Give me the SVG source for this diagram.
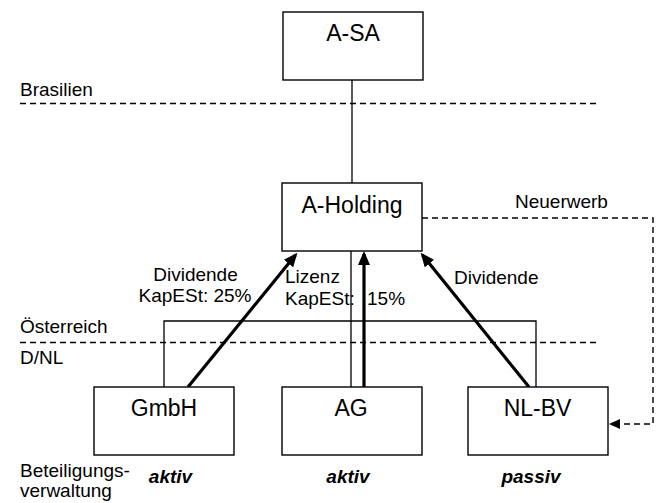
<svg xmlns="http://www.w3.org/2000/svg" width="658" height="503" viewBox="0 0 658 503">
  <style>
    .box { fill: #ffffff; stroke: #000000; stroke-width: 1.4; }
    .name { font-family: "Liberation Sans", Arial, sans-serif; font-size: 23px; text-anchor: middle; fill: #000000; }
    .lbl { font-family: "Liberation Sans", Arial, sans-serif; font-size: 19px; fill: #000000; }
    .mode { font-family: "Liberation Sans", Arial, sans-serif; font-size: 19px; font-weight: bold; font-style: italic; text-anchor: middle; fill: #000000; }
    .link { fill: none; stroke: #000000; stroke-width: 1.3; }
    .border { fill: none; stroke: #000000; stroke-width: 1.3; stroke-dasharray: 6 4; }
    .flow { fill: none; stroke: #000000; stroke-width: 3.2; marker-end: url(#bigHead); }
    .buy { fill: none; stroke: #000000; stroke-width: 1.4; stroke-dasharray: 6 4; marker-end: url(#smallHead); }
  </style>
  <defs>
    <marker id="bigHead" markerUnits="userSpaceOnUse" markerWidth="14" markerHeight="12" refX="11" refY="6" orient="auto">
      <path d="M0,0 L14,6 L0,12 z" fill="#000000"/>
    </marker>
    <marker id="smallHead" markerUnits="userSpaceOnUse" markerWidth="11" markerHeight="10" refX="9" refY="5" orient="auto">
      <path d="M0,0 L11,5 L0,10 z" fill="#000000"/>
    </marker>
  </defs>

  <!-- country borders and side labels -->
  <g id="borders">
    <line class="border" x1="20" y1="103.5" x2="597" y2="103.5"/>
    <line class="border" x1="20" y1="342.5" x2="597" y2="342.5"/>
    <text class="lbl" x="20" y="96">Brasilien</text>
    <text class="lbl" x="20" y="333">Österreich</text>
    <text class="lbl" x="20" y="364">D/NL</text>
    <text class="lbl" x="20" y="477">Beteiligungs-</text>
    <text class="lbl" x="20" y="497">verwaltung</text>
  </g>

  <!-- connectors -->
  <g id="connectors">
    <line class="link" x1="352" y1="80" x2="352" y2="183"/>
    <line class="link" x1="351" y1="251" x2="351" y2="387"/>
    <polyline class="link" points="164,387 164,321 536,321 536,387"/>
    <line class="flow" x1="188" y1="387" x2="295.5" y2="255"/>
    <line class="flow" x1="364" y1="387" x2="364" y2="254"/>
    <line class="flow" x1="529" y1="387" x2="422.5" y2="255"/>
    <polyline class="buy" points="422,218 653,218 653,424 611,424"/>
    <text class="lbl" x="195.5" y="281" text-anchor="middle">Dividende</text>
    <text class="lbl" x="195" y="302" text-anchor="middle">KapESt: 25%</text>
    <text class="lbl" x="285" y="283">Lizenz</text>
    <text class="lbl" x="285" y="304.5">KapESt:<tspan x="367">15%</tspan></text>
    <text class="lbl" x="454" y="284">Dividende</text>
    <text class="lbl" x="515" y="208">Neuerwerb</text>
  </g>

  <g id="a-sa">
    <rect class="box" x="283" y="12" width="140" height="68"/>
    <text class="name" x="353" y="41">A-SA</text>
  </g>

  <g id="a-holding">
    <rect class="box" x="282" y="183" width="140" height="68"/>
    <text class="name" x="352" y="213">A-Holding</text>
  </g>

  <g id="gmbh">
    <rect class="box" x="94" y="387" width="140" height="68"/>
    <text class="name" x="164" y="416">GmbH</text>
    <text class="mode" x="170.5" y="483">aktiv</text>
  </g>

  <g id="ag">
    <rect class="box" x="282" y="387" width="140" height="68"/>
    <text class="name" x="351" y="416">AG</text>
    <text class="mode" x="348" y="483">aktiv</text>
  </g>

  <g id="nl-bv">
    <rect class="box" x="468" y="387" width="140" height="68"/>
    <text class="name" x="537.5" y="416">NL-BV</text>
    <text class="mode" x="531" y="483">passiv</text>
  </g>
</svg>
